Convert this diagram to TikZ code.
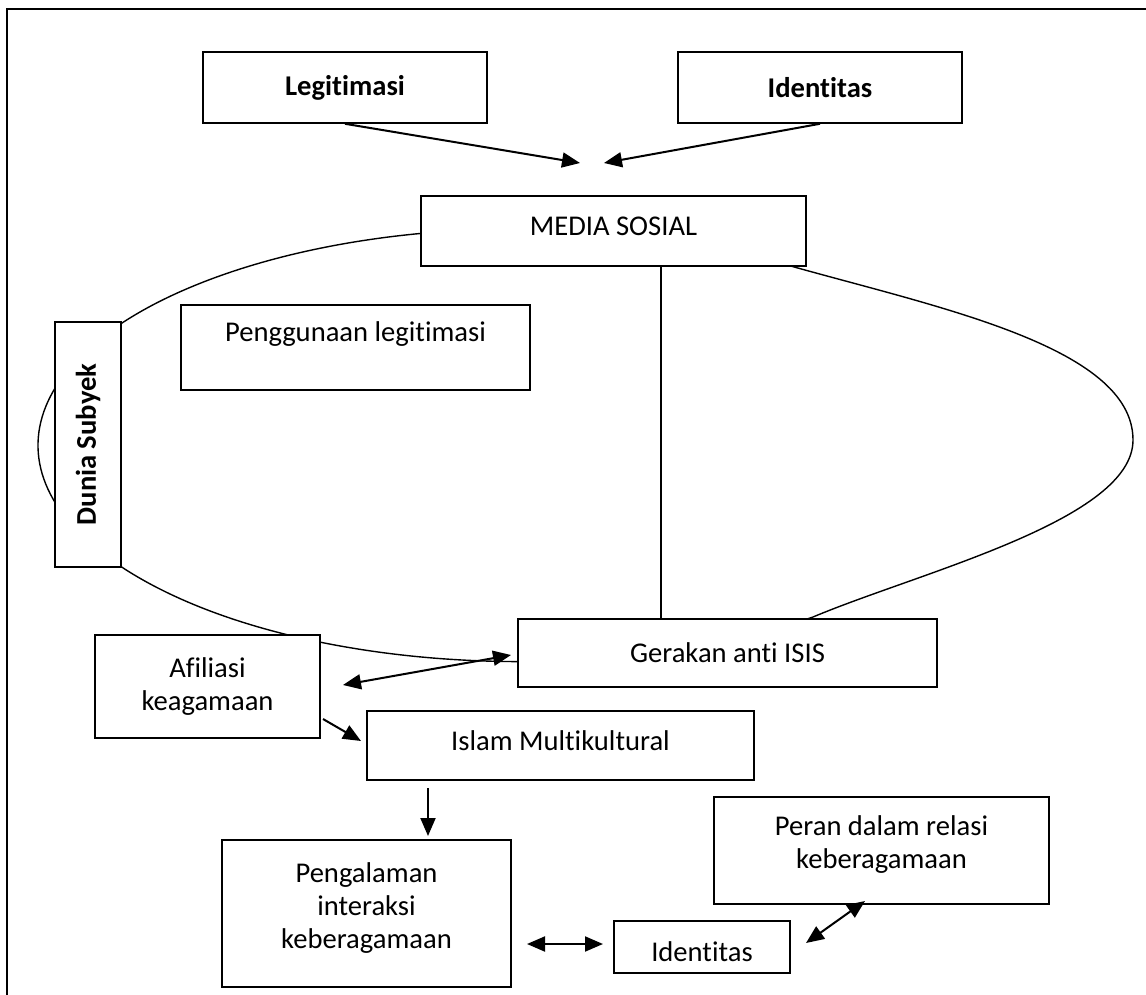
\documentclass[tikz,border=0pt]{standalone}
\usepackage{fontspec}
\setmainfont{Carlito}[Ligatures=NoCommon]
\usetikzlibrary{arrows.meta,calc}
\begin{document}
\begin{tikzpicture}[x=1pt,y=-1pt,
  box/.style={draw, line width=1.6pt, fill=white, inner sep=0pt, align=center,
    font=\fontsize{28.6}{33}\selectfont},
  bbox/.style={box, font=\fontsize{28.6}{33}\selectfont\bfseries},
  arr/.style={line width=2pt, -{Triangle[length=18pt,width=15pt]}},
  darr/.style={line width=2pt, {Triangle[length=18pt,width=15pt]}-{Triangle[length=18pt,width=15pt]}},
  curve/.style={line width=1.4pt},
]
\useasboundingbox (0,0) rectangle (1146,995);
\draw[line width=2pt] (1146,9) -- (7,9) -- (7,995);

% big oval
\draw[curve] (813,617) arc[start angle=52.56, end angle=302.64, x radius=482, y radius=216.4]
  .. controls (930,306) and (1133,345) .. (1133,440)
  .. controls (1133,520) and (920,572) .. (813,617) -- cycle;

% boxes
\node[bbox, minimum width=284, minimum height=71] (leg) at (345,87.5) {Legitimasi};
\node[bbox, minimum width=284, minimum height=71] (idt) at (820,87.5) {Identitas};
\node[box, minimum width=385, minimum height=70, text depth=10pt] (media) at (613.5,231) {MEDIA SOSIAL};
\node[box, minimum width=349, minimum height=85, text depth=32pt] (peng) at (355.5,347.5) {Penggunaan legitimasi};
\node[bbox, rotate=90, minimum width=245, minimum height=66] (dunia) at (88,444.5) {Dunia Subyek};
\node[box, minimum width=419, minimum height=68] (gerak) at (727.5,653) {Gerakan anti ISIS};
\node[box, minimum width=225, minimum height=103] (afil) at (207.5,686.5) {Afiliasi\\keagamaan};
\node[box, minimum width=387, minimum height=69, text depth=10pt] (islam) at (560.5,745.5) {Islam Multikultural};
\node[box, minimum width=289, minimum height=147, text depth=15pt] (pengal) at (366.5,913.5) {Pengalaman\\interaksi\\keberagamaan};
\node[box, minimum width=335, minimum height=107, text depth=17pt] (peran) at (881.5,850.5) {Peran dalam relasi\\keberagamaan};
\node[box, minimum width=176, minimum height=52, text height=30pt] (ident) at (702,947) {Identitas};

% connectors
\coordinate (meetL) at (580,163);
\coordinate (meetR) at (604,163);
\draw[arr] (leg.south) -- (meetL);
\draw[arr] (idt.south) -- (meetR);
\draw[line width=1.5pt] (media.south -| 661,0) -- (gerak.north -| 661,0);

\coordinate (ag1) at (343,685);
\coordinate (ag2) at (511,655);
\draw[darr] (ag1) -- (ag2);
\coordinate (ai1) at (323,719);
\coordinate (ai2) at (361,741);
\draw[arr] (ai1) -- (ai2);
\coordinate (ip1) at (428,788);
\coordinate (ip2) at (428,836);
\draw[arr] (ip1) -- (ip2);
\coordinate (pi1) at (527,944);
\coordinate (pi2) at (603,944);
\draw[darr] (pi1) -- (pi2);
\coordinate (ir1) at (806,943);
\coordinate (ir2) at (865,901);
\draw[darr] (ir1) -- (ir2);
\end{tikzpicture}
\end{document}
